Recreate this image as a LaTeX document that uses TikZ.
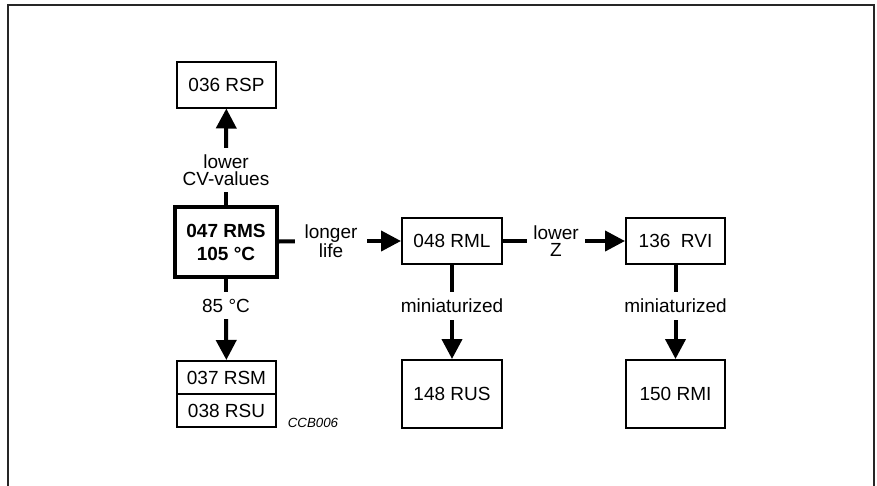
\documentclass[tikz,border=0pt]{standalone}
\usepackage{fontspec}
\setmainfont{Liberation Sans}
\usetikzlibrary{positioning}
\usetikzlibrary{arrows.meta}

\begin{document}
\begin{tikzpicture}
	[x=1pt,y=-1pt,>={Triangle[length=20pt,width=20pt]},
	font=\fontsize{19}{17.5}\selectfont,
	box/.style={rectangle,draw,line width=2pt,inner sep=0pt,minimum width=99pt,minimum height=46pt},
	mainbox/.style={box,line width=4pt,minimum width=102pt,minimum height=70pt,font=\fontsize{19}{23}\selectfont\bfseries},
	lbl/.style={inner sep=0pt,align=center},
	link/.style={line width=4pt}]
	\useasboundingbox (0,0) rectangle (877,485);
	\draw [black!85,line width=1.6pt] (8,5) rectangle (874,500);
	\node at (226,242) [mainbox,align=center] (rms) {047 RMS\\105 °C};
	\node at (226.5,84.5) [box] (rsp) {036 RSP};
	\node at (452,241) [box,minimum width=100pt] (rml) {048 RML};
	\node at (675.5,241) [box] (rvi) {136\ \ RVI};
	\node at (226.5,377.5) [box,minimum height=33pt] (rsm) {037 RSM};
	\node (rsu) [box,minimum height=33pt,below=-2pt of rsm] {038 RSU};
	\node at (452,394) [box,minimum width=100pt,minimum height=68pt] (rus) {148 RUS};
	\node at (675.5,394) [box,minimum height=68pt] (rmi) {150 RMI};
	\node at (313,423) [font=\fontsize{13.3}{14}\selectfont\itshape] (code) {CCB006};
	% labels on the links
	\node at (226,170) [lbl,minimum height=44pt] (cv) {lower\\CV-values};
	\node at (331,241) [lbl,minimum width=72pt] (life) {longer\\life};
	\node at (556,241) [lbl,minimum width=58pt] (lowz) {lower\\Z};
	\node at (226,305.5) [lbl,minimum height=27pt] (hot) {85 °C};
	\node at (452,306) [lbl,minimum height=28pt] (mini1) {miniaturized};
	\node at (675.5,306) [lbl,minimum height=28pt] (mini2) {miniaturized};
	\draw [link] (rms) -- (cv);
	\draw [link,->] (cv) -- (rsp);
	\draw [link] (rms) -- (life);
	\draw [link,->] (life) -- (rml);
	\draw [link] (rml) -- (lowz);
	\draw [link,->] (lowz) -- (rvi);
	\draw [link] (rms) -- (hot);
	\draw [link,->] (hot) -- (rsm);
	\draw [link] (rml) -- (mini1);
	\draw [link,->] (mini1) -- (rus);
	\draw [link] (rvi) -- (mini2);
	\draw [link,->] (mini2) -- (rmi);
\end{tikzpicture}
\end{document}
